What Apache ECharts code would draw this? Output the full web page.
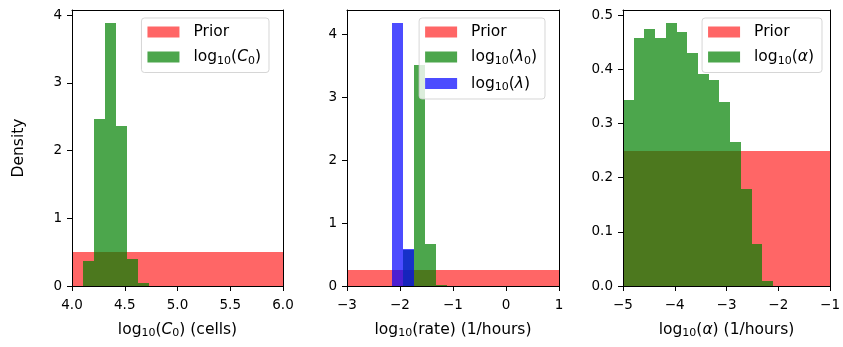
<!DOCTYPE html>
<html>
<head>
<meta charset="utf-8">
<script src="https://cdn.jsdelivr.net/npm/echarts@6/dist/echarts.min.js"></script>
<style>
  html, body { margin: 0; padding: 0; background: #fff; }
  #chart { width: 843px; height: 347px; }
</style>
</head>
<body>
<div id="chart"></div>
<script>
// Posterior histograms (density) with their uniform priors, one panel per parameter.

// Panel 1: log10(C0)
const c0Edges = [4.10, 4.205, 4.31, 4.415, 4.52, 4.625, 4.73];
const c0Density = [0.365, 2.47, 3.88, 2.36, 0.40, 0.045];
const c0Prior = { lo: 4.0, hi: 6.0, density: 0.5 };

// Panel 2: log10(lambda0) and log10(lambda)
const lambda0Edges = [-1.95, -1.74, -1.53, -1.32, -1.11];
const lambda0Density = [0.58, 3.51, 0.66, 0.02];
const lambdaEdges = [-2.15, -1.95, -1.74];
const lambdaDensity = [4.18, 0.59];
const ratePrior = { lo: -3.0, hi: 1.0, density: 0.25 };

// Panel 3: log10(alpha)
const alphaEdges = [-5.0, -4.793, -4.586, -4.379, -4.172, -3.965, -3.758, -3.551,
                    -3.344, -3.137, -2.930, -2.723, -2.516, -2.309, -2.102];
const alphaDensity = [0.343, 0.458, 0.474, 0.458, 0.485, 0.469, 0.430, 0.392,
                      0.380, 0.340, 0.266, 0.179, 0.077, 0.010];
const alphaPrior = { lo: -5.0, hi: -1.0, density: 0.25 };

// Tick values
const xTicks1 = [4.0, 4.5, 5.0, 5.5, 6.0];
const xTicks2 = [-3, -2, -1, 0, 1];
const xTicks3 = [-5, -4, -3, -2, -1];
const yTicks1 = [0, 1, 2, 3, 4];
const yTicks2 = [0, 1, 2, 3, 4];
const yTicks3 = [0, 0.1, 0.2, 0.3, 0.4, 0.5];

const RED = 'rgba(255,0,0,0.6)';
const GREEN = 'rgba(0,128,0,0.7)';
const BLUE = 'rgba(0,0,255,0.7)';
const FONT = 'DejaVu Sans';
const INK = '#000';
const TICK_SIZE = 13.5;
const LABEL_SIZE = 15.5;

function bins(edges, dens) {
  return dens.map((d, i) => [edges[i], edges[i + 1], d]);
}

// Each bin is a rectangle from (x0, 0) to (x1, density); edges snapped to whole
// pixels so neighbouring bins meet without hairline seams.
function renderBin(color) {
  return function (params, api) {
    const p0 = api.coord([api.value(0), 0]);
    const p1 = api.coord([api.value(1), api.value(2)]);
    const x0 = Math.round(p0[0]), x1 = Math.round(p1[0]);
    const yb = Math.round(p0[1]), yt = Math.round(p1[1]);
    return {
      type: 'rect',
      shape: { x: x0, y: yt, width: x1 - x0, height: yb - yt },
      style: { fill: color }
    };
  };
}

function histSeries(name, idx, data, color) {
  return {
    type: 'custom', name: name,
    xAxisIndex: idx, yAxisIndex: idx,
    data: data,
    encode: { x: [0, 1], y: 2 },
    itemStyle: { color: color },
    renderItem: renderBin(color),
    clip: true,
    silent: true
  };
}

const minus = s => String(s).replace('-', '\u2212');

const rich = {
  t: { fontFamily: FONT, fontSize: LABEL_SIZE, lineHeight: 19, color: INK },
  i: { fontFamily: FONT, fontSize: LABEL_SIZE, lineHeight: 19, fontStyle: 'italic', color: INK },
  s: { fontFamily: FONT, fontSize: 11, lineHeight: 11, verticalAlign: 'bottom', color: INK },
  g: { width: 9, lineHeight: 19 }
};

const legendText = {
  'Prior': '{t|Prior}',
  'C0': '{t|log}{s|10}{t|(}{i|C}{s|0}{t|)}',
  'lambda0': '{t|log}{s|10}{t|(}{i|λ}{s|0}{t|)}',
  'lambda': '{t|log}{s|10}{t|(}{i|λ}{t|)}',
  'alpha': '{t|log}{s|10}{t|(}{i|α}{t|)}'
};

const grids = [
  { left: 72, top: 10, width: 211, height: 276 },
  { left: 347, top: 10, width: 212, height: 276 },
  { left: 623, top: 10, width: 212, height: 276 }
];

const xRanges = [[c0Prior.lo, c0Prior.hi, 0.5], [ratePrior.lo, ratePrior.hi, 1], [alphaPrior.lo, alphaPrior.hi, 1]];
const xTickSets = [xTicks1, xTicks2, xTicks3];
const yTickSets = [yTicks1, yTicks2, yTicks3];
const yMaxes = [
  1.05 * Math.max(...c0Density),
  1.05 * Math.max(...lambdaDensity, ...lambda0Density),
  1.05 * Math.max(...alphaDensity)
];
const xFormat = [v => v.toFixed(1), v => minus(v), v => minus(v)];
const yFormat = [v => String(v), v => String(v), v => v.toFixed(1)];
const xNames = [
  '{t|log}{s|10}{t|(}{i|C}{s|0}{t|) (cells)}',
  '{t|log}{s|10}{t|(rate) (1/hours)}',
  '{t|log}{s|10}{t|(}{i|α}{t|) (1/hours)}'
];

const lineStyle = { color: INK, width: 1 };
const xAxes = [], yAxes = [];
for (let k = 0; k < 3; k++) {
  xAxes.push({
    type: 'value', gridIndex: k, position: 'bottom', z: 10,
    min: xRanges[k][0], max: xRanges[k][1], interval: xRanges[k][2],
    splitLine: { show: false },
    axisLine: { show: true, onZero: false, lineStyle: lineStyle },
    axisTick: { show: true, length: 5, lineStyle: lineStyle, customValues: xTickSets[k] },
    axisLabel: { show: true, margin: 12, color: INK, fontFamily: FONT, fontSize: TICK_SIZE,
                 customValues: xTickSets[k], formatter: xFormat[k] },
    name: xNames[k], nameLocation: 'middle', nameGap: 34,
    nameTextStyle: { rich: rich }
  });
  yAxes.push({
    type: 'value', gridIndex: k, position: 'left', z: 10,
    min: 0, max: yMaxes[k],
    splitLine: { show: false },
    axisLine: { show: true, onZero: false, lineStyle: lineStyle },
    axisTick: { show: true, length: 5, lineStyle: lineStyle, customValues: yTickSets[k] },
    axisLabel: { show: true, margin: 10, color: INK, fontFamily: FONT, fontSize: TICK_SIZE,
                 customValues: yTickSets[k], formatter: yFormat[k] },
    name: k === 0 ? 'Density' : '', nameLocation: 'middle', nameGap: 45,
    nameTextStyle: { color: INK, fontFamily: FONT, fontSize: LABEL_SIZE }
  });
}
// frame edges on the top and right of each panel
for (let k = 0; k < 3; k++) {
  xAxes.push({
    type: 'value', gridIndex: k, position: 'top', z: 10,
    min: xRanges[k][0], max: xRanges[k][1],
    splitLine: { show: false }, axisTick: { show: false }, axisLabel: { show: false },
    axisLine: { show: true, onZero: false, lineStyle: lineStyle }
  });
  yAxes.push({
    type: 'value', gridIndex: k, position: 'right', z: 10,
    min: 0, max: yMaxes[k],
    splitLine: { show: false }, axisTick: { show: false }, axisLabel: { show: false },
    axisLine: { show: true, onZero: false, lineStyle: lineStyle }
  });
}

function legendFor(names, right) {
  return {
    orient: 'vertical', right: right, top: 18, z: 20,
    data: names,
    itemWidth: 32, itemHeight: 11, itemGap: 9,
    icon: 'rect',
    padding: [6, 8, 6, 6],
    backgroundColor: 'rgba(255,255,255,0.8)',
    borderColor: 'rgba(204,204,204,0.8)', borderWidth: 1, borderRadius: 3,
    selectedMode: false,
    formatter: name => '{g|}' + legendText[name],
    textStyle: { rich: rich }
  };
}

const series = [
  histSeries('Prior', 0, [[c0Prior.lo, c0Prior.hi, c0Prior.density]], RED),
  histSeries('C0', 0, bins(c0Edges, c0Density), GREEN),
  histSeries('Prior', 1, [[ratePrior.lo, ratePrior.hi, ratePrior.density]], RED),
  histSeries('lambda0', 1, bins(lambda0Edges, lambda0Density), GREEN),
  histSeries('lambda', 1, bins(lambdaEdges, lambdaDensity), BLUE),
  histSeries('Prior', 2, [[alphaPrior.lo, alphaPrior.hi, alphaPrior.density]], RED),
  histSeries('alpha', 2, bins(alphaEdges, alphaDensity), GREEN)
];

const chart = echarts.init(document.getElementById('chart'), null, { renderer: 'canvas' });
chart.setOption({
  animation: false,
  backgroundColor: '#fff',
  textStyle: { fontFamily: FONT },
  grid: grids,
  xAxis: xAxes,
  yAxis: yAxes,
  legend: [
    legendFor(['Prior', 'C0'], 843 - 275 + 6),
    legendFor(['Prior', 'lambda0', 'lambda'], 843 - 550 + 5),
    legendFor(['Prior', 'alpha'], 843 - 827 + 5)
  ],
  series: series
});
</script>
</body>
</html>
